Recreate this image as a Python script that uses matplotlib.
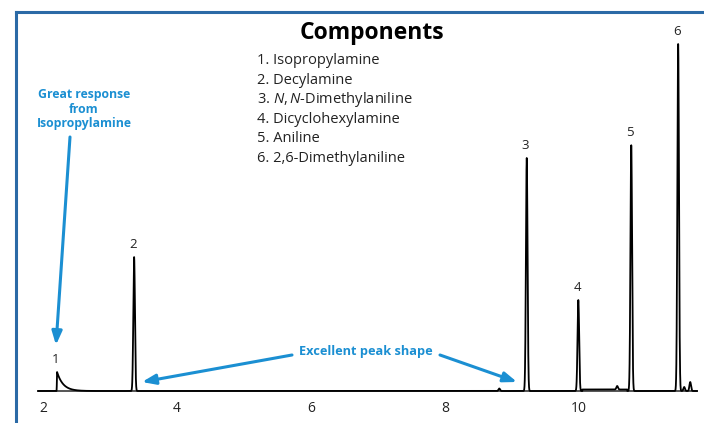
import numpy as np
import matplotlib
matplotlib.use('Agg')
import matplotlib.pyplot as plt
from matplotlib.lines import Line2D

plt.rcParams['font.family'] = ['Open Sans', 'DejaVu Sans']
plt.rcParams['mathtext.fontset'] = 'custom'
plt.rcParams['mathtext.rm'] = 'Open Sans'
plt.rcParams['mathtext.it'] = 'Open Sans:italic'

# retention times (min) and peak heights of the six components
peak_labels = ['1', '2', '3', '4', '5', '6']
peak_times = [2.21, 3.36, 9.22, 9.99, 10.78, 11.48]
peak_heights = [19, 134, 233, 91, 246, 347]

# small unlabelled bumps in the baseline
minor_times = [8.81, 10.57, 11.57, 11.66]
minor_heights = [2.5, 3.5, 4, 9]

components = ['Isopropylamine', 'Decylamine', r'$\it{N,N}$-Dimethylaniline',
              'Dicyclohexylamine', 'Aniline', '2,6-Dimethylaniline']

blue = '#1b8fd2'
frame_blue = '#2b6aa6'

t = np.linspace(1.93, 11.76, 8000)
signal = np.zeros_like(t)
for rt, h, lab in zip(peak_times, peak_heights, peak_labels):
    if lab == '1':
        # tailing peak: sharp front, exponential tail
        tail = np.where(t >= rt, np.exp(-(t - rt) / 0.09), 0)
        front = np.exp(-((t - rt) / 0.004) ** 2) * (t < rt)
        signal += h * (tail + front)
    else:
        signal += h * np.exp(-0.5 * ((t - rt) / 0.012) ** 2)
for rt, h in zip(minor_times, minor_heights):
    signal += h * np.exp(-0.5 * ((t - rt) / 0.012) ** 2)
# slightly lifted baseline between peaks 4 and 5
signal += 1.5 * ((t > 10.05) & (t < 10.72))

fig = plt.figure(figsize=(7.04, 4.23), dpi=100)
ax = fig.add_axes([0, 0, 1, 1])
ax.set_xlim(2 - 43 / 67, 2 + 661 / 67)
ax.set_ylim(-32, 391)
ax.axis('off')

ax.plot([1.93, 11.76], [0, 0], color='#555555', lw=1.4)
ax.plot(t, signal, color='black', lw=1.3)

for rt, h, lab in zip(peak_times, peak_heights, peak_labels):
    ax.text(rt - 0.02, h + 6, lab, ha='center', va='bottom', fontsize=9.5,
            color='#222222')

for tick in [2, 4, 6, 8, 10]:
    ax.text(tick, -17, str(tick), ha='center', va='center', fontsize=10,
            color='#222222')

# frame (left and top)
fig.add_artist(Line2D([16 / 704, 16 / 704], [0, 1 - 12 / 423],
                      transform=fig.transFigure, color=frame_blue, lw=2.2))
fig.add_artist(Line2D([16 / 704, 1], [1 - 12 / 423, 1 - 12 / 423],
                      transform=fig.transFigure, color=frame_blue, lw=2.2))

# components list
fig.text(372 / 704, 1 - 33 / 423, 'Components', ha='center', va='center',
         fontsize=16.5, fontweight='bold', color='black')
for i, name in enumerate(components):
    fig.text(257 / 704, 1 - (61 + 19.4 * i) / 423, f'{i + 1}. {name}',
             ha='left', va='center', fontsize=10.5, color='#222222')

# annotations
fig.text(84 / 704, 1 - 109 / 423, 'Great response\nfrom\nIsopropylamine',
         ha='center', va='center', fontsize=8.8, fontweight='bold', color=blue,
         linespacing=1.15)
arrow = dict(arrowstyle='-|>,head_length=0.8,head_width=0.3', color=blue,
             lw=2.2, shrinkA=0, shrinkB=0)
ax.annotate('', xy=(56 / 704, 1 - 345 / 423), xytext=(70 / 704, 1 - 137 / 423),
            xycoords='figure fraction', textcoords='figure fraction',
            arrowprops=arrow)

fig.text(366 / 704, 1 - 351 / 423, 'Excellent peak shape', ha='center',
         va='center', fontsize=9.2, fontweight='bold', color=blue)
ax.annotate('', xy=(142 / 704, 1 - 382 / 423), xytext=(292 / 704, 1 - 355 / 423),
            xycoords='figure fraction', textcoords='figure fraction',
            arrowprops=arrow)
ax.annotate('', xy=(517 / 704, 1 - 382 / 423), xytext=(440 / 704, 1 - 355 / 423),
            xycoords='figure fraction', textcoords='figure fraction',
            arrowprops=arrow)

fig.savefig('out.png', dpi=100)
